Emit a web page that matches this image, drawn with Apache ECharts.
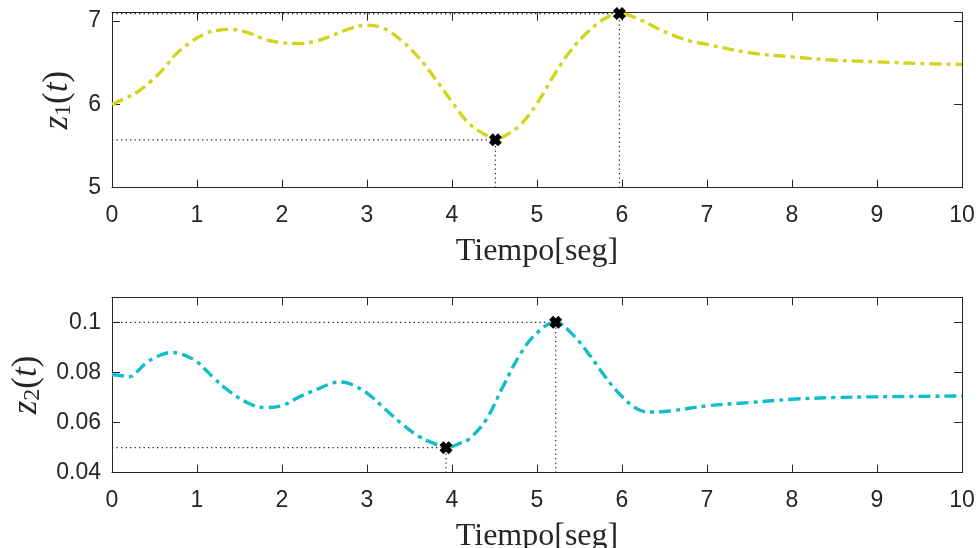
<!DOCTYPE html>
<html><head><meta charset="utf-8">
<script src="https://cdn.jsdelivr.net/npm/echarts@6/dist/echarts.min.js"></script>
<style>html,body{margin:0;padding:0;background:#fff}#c{width:978px;height:548px}</style>
</head><body><div id="c"></div>
<script>
// ---- data ----
const tTop = [0,0.15,0.3,0.45,0.6,0.75,0.9,1.1,1.25,1.4,1.6,1.8,2,2.2,2.4,2.6,2.8,3,3.2,3.4,3.6,3.8,4,4.2,4.4,4.51,4.6,4.8,5,5.2,5.4,5.6,5.8,5.97,6.2,6.4,6.6,6.8,7,7.5,8,8.5,9,9.5,10];
const zTop = [6.0,6.07,6.15,6.27,6.42,6.6,6.73,6.85,6.89,6.9,6.86,6.78,6.74,6.73,6.76,6.83,6.91,6.95,6.91,6.77,6.57,6.31,6.03,5.77,5.63,5.575,5.61,5.75,6.01,6.35,6.65,6.87,7.03,7.09,7.02,6.92,6.83,6.76,6.72,6.62,6.57,6.53,6.51,6.49,6.48];
const tBot = [0,0.1,0.2,0.3,0.4,0.5,0.6,0.7,0.8,0.9,1,1.1,1.2,1.33,1.6,1.8,2,2.2,2.4,2.6,2.7,2.8,3,3.2,3.4,3.6,3.8,3.93,4.1,4.2,4.4,4.6,4.8,5,5.22,5.4,5.6,5.8,6,6.2,6.35,6.6,7,7.5,8,8.5,9,10];
const zBot = [0.0791,0.0788,0.0783,0.0805,0.0838,0.0858,0.0873,0.088,0.0875,0.0862,0.0843,0.0811,0.0778,0.0738,0.0678,0.066,0.0668,0.0702,0.0731,0.0758,0.0762,0.0755,0.0718,0.0658,0.0598,0.0547,0.0515,0.05,0.0518,0.0534,0.0611,0.0744,0.0871,0.0958,0.1,0.0958,0.0878,0.0784,0.0704,0.0651,0.0642,0.0648,0.0667,0.068,0.0693,0.07,0.0703,0.0706];
const topMarkers = [[4.51,5.575],[5.97,7.09]];
const botMarkers = [[3.93,0.05],[5.22,0.1]];
const xTicks = [0,1,2,3,4,5,6,7,8,9,10];
const topYTicks = [5,6,7];
const botYTicks = [0.04,0.06,0.08,0.1];
const xLabel = 'Tiempo[seg]';

// ---- chart ----
const axisColor = '#262626';
const tickFont = {fontFamily:'Liberation Sans, Arial, sans-serif', fontSize:23, color:axisColor};
const nameRich = {
  i:{fontFamily:'Liberation Serif, serif', fontStyle:'italic', fontSize:35, color:axisColor},
  p:{fontFamily:'Liberation Serif, serif', fontSize:35, color:axisColor},
  s:{fontFamily:'Liberation Serif, serif', fontSize:24, color:axisColor, padding:[13,0,0,0]}
};
const yRanges = [{min:5,max:7.1,interval:1},{min:0.04,max:0.11,interval:0.02}];
function xAx(g, pos, labels){
  return {type:'value', gridIndex:g, position:pos, min:0, max:10, interval:1,
    axisLine:{show:true, onZero:false, lineStyle:{color:axisColor,width:1}},
    axisTick:{show:true, inside:true, length:8, lineStyle:{color:axisColor}},
    axisLabel:{show:labels, margin:16, ...tickFont, formatter:v=>xTicks.includes(v)?String(v):''},
    splitLine:{show:false},
    name: labels? xLabel : '', nameLocation:'middle', nameGap:48,
    nameTextStyle:{fontFamily:'Liberation Serif, serif', fontSize:32, color:axisColor}};
}
function yAx(g, pos, labels, name, gap){
  const r = yRanges[g];
  const ticks = g===0? topYTicks : botYTicks;
  return {type:'value', gridIndex:g, position:pos, min:r.min, max:r.max, interval:r.interval,
    axisLine:{show:true, onZero:false, lineStyle:{color:axisColor,width:1}},
    axisTick:{show:true, inside:true, length:8, lineStyle:{color:axisColor}},
    axisLabel:{show:labels, margin:11, ...tickFont, showMaxLabel:false,
      formatter:v=>{const x=parseFloat(v.toFixed(4)); return ticks.some(t=>Math.abs(t-x)<1e-9)?String(x):'';}},
    splitLine:{show:false},
    name: name||'', nameLocation:'middle', nameGap:gap||0, nameRotate:90,
    nameTextStyle:{rich:nameRich}};
}
const xPath = 'path://M0,3 L3,0 L5,2 L7,0 L10,3 L8,5 L10,7 L7,10 L5,8 L3,10 L0,7 L2,5 Z';
function guides(markers, yMin, xi){
  const out = [];
  markers.forEach(m=>{
    const style = {type:'line', xAxisIndex:xi, yAxisIndex:xi, symbol:'none', silent:true,
      lineStyle:{color:'#222', width:1.2, type:[1.3,3.2]}, z:1};
    out.push({...style, data:[[0,m[1]],[m[0],m[1]]]});
    out.push({...style, data:[[m[0],yMin],[m[0],m[1]]]});
  });
  return out;
}
const dashDot = [12,5,4,5];
const option = {
  animation:false,
  grid:[{left:112, right:16, top:12.7, height:175, outerBoundsMode:'none', containLabel:false},
        {left:112, right:16, top:297.3, height:175.4, outerBoundsMode:'none', containLabel:false}],
  xAxis:[xAx(0,'bottom',true), xAx(1,'bottom',true), xAx(0,'top',false), xAx(1,'top',false)],
  yAxis:[yAx(0,'left',true,'{i|z}{s|1}{p|(}{i|t}{p|)}',36), yAx(1,'left',true,'{i|z}{s|2}{p|(}{i|t}{p|)}',67),
         yAx(0,'right',false), yAx(1,'right',false)],
  series:[
    ...guides(topMarkers, 5, 0),
    ...guides(botMarkers, 0.04, 1),
    {type:'line', xAxisIndex:0, yAxisIndex:0, smooth:0.4, symbol:'none', z:3,
     lineStyle:{color:'#D4D41E', width:3.4, type:dashDot}, data:tTop.map((t,i)=>[t,zTop[i]])},
    {type:'line', xAxisIndex:1, yAxisIndex:1, smooth:0.4, symbol:'none', z:3,
     lineStyle:{color:'#12BDCA', width:3.4, type:dashDot}, data:tBot.map((t,i)=>[t,zBot[i]])},
    {type:'scatter', xAxisIndex:0, yAxisIndex:0, symbol:xPath, symbolSize:13, z:5,
     itemStyle:{color:'#000', opacity:1}, data:topMarkers},
    {type:'scatter', xAxisIndex:1, yAxisIndex:1, symbol:xPath, symbolSize:13, z:5,
     itemStyle:{color:'#000', opacity:1}, data:botMarkers}
  ]
};
const chart = echarts.init(document.getElementById('c'), null, {renderer:'canvas'});
chart.setOption(option);
</script></body></html>
